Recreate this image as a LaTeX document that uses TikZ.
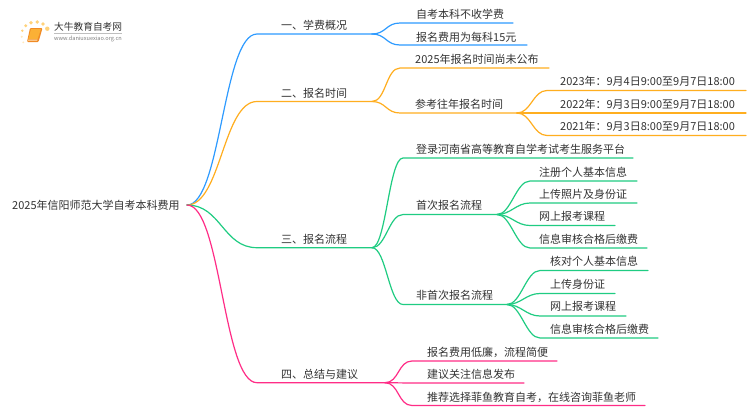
\documentclass[tikz,border=0pt]{standalone}
\usepackage{fontspec}
\setmainfont{Noto Sans CJK SC}
\definecolor{cb}{HTML}{2E9BFF}
\definecolor{co}{HTML}{FFAE1F}
\definecolor{cg}{HTML}{1FCC82}
\definecolor{cp}{HTML}{FF2D87}
\definecolor{ct}{HTML}{333333}
\definecolor{dotc}{HTML}{FFD27A}
\definecolor{dotl}{HTML}{FFE9BE}
\definecolor{bookedge}{HTML}{F08A24}
\definecolor{bookfill}{HTML}{FBB035}
\tikzset{
 lbl/.style={anchor=west,inner sep=0pt,text=ct,font=\fontsize{11}{13}\selectfont},
 link/.style={line width=1.2pt,line cap=round},
 sc/.style={out=0,in=180,out distance=#1,in distance=#1},
 sc/.default=14pt,
 bigc/.style={out=0,in=180,out distance=34pt,in distance=34pt}
}
\begin{document}
\begin{tikzpicture}[x=1pt,y=-1pt]
\useasboundingbox (0,0) rectangle (750,410);
% logo
\fill[white] (0,0) rectangle (750,410);
\fill[dotc] (22.3,30.7) circle (1.3) (25.7,25.7) circle (1.6) (31,22.7) circle (1.8) (37.3,22) circle (1.9) (43,24) circle (1.9) (47.3,28.7) circle (2.2);
\fill[dotl] (21.7,36.7) circle (1.1) (23.3,42.3) circle (1);
\fill[bookedge,rounded corners=1pt] (30,28) -- (42.5,28) -- (38.5,42) -- (27,42) -- cycle;
\fill[bookfill] (31,29) -- (41,29) -- (37.6,39) -- (28.3,39) -- cycle;
\fill[white!70!bookfill] (28.3,39.6) -- (37.5,39.6) -- (37.2,40.6) -- (28,40.6) -- cycle;
\node[anchor=west,inner sep=0pt,text=ct,font=\fontsize{9.7}{11}\selectfont] (logot) at (54,27) {大牛教育自考网};
\draw[gray!50,line width=.5pt] (54,33.3) -- (122,33.3);
\node[anchor=west,inner sep=0pt,text=gray,font=\fontsize{5.6}{7}\selectfont] (logou) at (54,39) {www.daniuxuexiao.org.cn};
% junction coordinates
\coordinate (r) at (187,205);
\foreach \n/\x/\y in {a/257/34,ae/372/34,a1/400/23,a1e/513/23,a2/400/45,a2e/527/45,
 b/257/101.5,be/372/101.5,b1/400/68,b1e/549/68,b2/400/113,b2e/517/113,
 b21/547/90.5,b21e/746/90.5,b22/547/113,b22e/746/113,b23/547/135.5,b23e/746/135.5,
 c/257/247.7,ce/372/247.7,c1/403/158,c1e/633/158,c2/403/214.5,c2e/497/214.5,c3/403/304.5,c3e/507/304.5,
 c21/530/181,c21e/637/181,c22/530/203,c22e/637/203,c23/530/225.5,c23e/615/225.5,c24/530/248,c24e/647/248,
 c31/540/270.5,c31e/648/270.5,c32/540/293.5,c32e/615/293.5,c33/540/316,c33e/626/316,c34/540/338,c34e/658/338,
 d/257/382.7,de/385/382.7,d1/412/361,d1e/557/361,d2/412/383,d2e/524/383,d3/412/405.5,d3e/645/405.5}
 {\coordinate (\n) at (\x,\y);}
% connectors
\draw[link,cb] (r) to[bigc] (a) -- (ae);
\draw[link,cb] (ae) to[sc] (a1) -- (a1e);
\draw[link,cb] (ae) to[sc] (a2) -- (a2e);
\draw[link,co] (r) to[bigc] (b) -- (be);
\draw[link,co] (be) to[sc] (b1) -- (b1e);
\draw[link,co] (be) to[sc] (b2) -- (b2e);
\draw[link,co] (b2e) to[sc] (b21) -- (b21e);
\draw[link,co] (b2e) -- (b22) -- (b22e);
\draw[link,co] (b2e) to[sc] (b23) -- (b23e);
\draw[link,cg] (r) to[bigc] (c) -- (ce);
\draw[link,cg] (ce) to[sc] (c1) -- (c1e);
\draw[link,cg] (ce) to[sc] (c2) -- (c2e);
\draw[link,cg] (ce) to[sc] (c3) -- (c3e);
\draw[link,cg] (c2e) to[sc] (c21) -- (c21e);
\draw[link,cg] (c2e) to[sc] (c22) -- (c22e);
\draw[link,cg] (c2e) to[sc] (c23) -- (c23e);
\draw[link,cg] (c2e) to[sc] (c24) -- (c24e);
\draw[link,cg] (c3e) to[sc] (c31) -- (c31e);
\draw[link,cg] (c3e) to[sc] (c32) -- (c32e);
\draw[link,cg] (c3e) to[sc] (c33) -- (c33e);
\draw[link,cg] (c3e) to[sc] (c34) -- (c34e);
\draw[link,cp] (r) to[bigc] (d) -- (de);
\draw[link,cp] (de) to[sc] (d1) -- (d1e);
\draw[link,cp] (de) -- (d2) -- (d2e);
\draw[link,cp] (de) to[sc] (d3) -- (d3e);
% labels
\node[lbl] (root) at (12,205.5) {2025年信阳师范大学自考本科费用};
\node[lbl] (ta) at (281,25.5) {一、学费概况};
\node[lbl] (ta1) at (416,14.5) {自考本科不收学费};
\node[lbl] (ta2) at (416,37) {报名费用为每科15元};
\node[lbl] (tb) at (281,93) {二、报名时间};
\node[lbl] (tb1) at (415,59.5) {2025年报名时间尚未公布};
\node[lbl] (tb2) at (415,104.5) {参考往年报名时间};
\node[lbl] (tb21) at (560,81.5) {2023年：9月4日9:00至9月7日18:00};
\node[lbl] (tb22) at (560,104.5) {2022年：9月3日9:00至9月7日18:00};
\node[lbl] (tb23) at (560,126.5) {2021年：9月3日8:00至9月7日18:00};
\node[lbl] (tc) at (281,239) {三、报名流程};
\node[lbl] (tc1) at (416,149.5) {登录河南省高等教育自学考试考生服务平台};
\node[lbl] (tc2) at (416,205) {首次报名流程};
\node[lbl] (tc21) at (539,172) {注册个人基本信息};
\node[lbl] (tc22) at (539,194.5) {上传照片及身份证};
\node[lbl] (tc23) at (539,216.5) {网上报考课程};
\node[lbl] (tc24) at (539,239) {信息审核合格后缴费};
\node[lbl] (tc3) at (416,295.5) {非首次报名流程};
\node[lbl] (tc31) at (550,261.5) {核对个人基本信息};
\node[lbl] (tc32) at (550,284) {上传身份证};
\node[lbl] (tc33) at (550,306.5) {网上报考课程};
\node[lbl] (tc34) at (550,329) {信息审核合格后缴费};
\node[lbl] (td) at (281,374.5) {四、总结与建议};
\node[lbl] (td1) at (427,352) {报名费用低廉，流程简便};
\node[lbl] (td2) at (427,374.5) {建议关注信息发布};
\node[lbl] (td3) at (427,397) {推荐选择菲鱼教育自考，在线咨询菲鱼老师};
\end{tikzpicture}
\end{document}
